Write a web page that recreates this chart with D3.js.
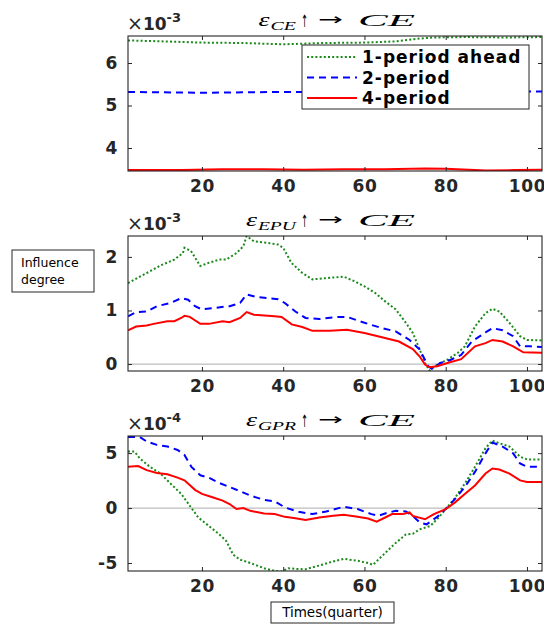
<!DOCTYPE html>
<html lang="en">
<head>
<meta charset="UTF-8">
<title>Influence degree</title>
<script src="https://d3js.org/d3.v7.min.js"></script>
<style>
  body { margin: 0; background: #fff; }
  svg { display: block; }
  .tick text { font-family: "DejaVu Sans", sans-serif; font-weight: bold; font-size: 17px; fill: #262626; }
</style>
</head>
<body>
<div id="chart"></div>
<script>
// x ticks (quarters)
const xTicks = [20, 40, 60, 80, 100];
const seriesNames = ["1-period ahead", "2-period", "4-period"];

// panel 1: eps_CE -> CE  (x 10^-3)
const ceP1 = [[1.8,6.53],[10,6.51],[20,6.48],[30,6.47],[40,6.44],[50,6.47],[60,6.48],[68,6.51],[73,6.57],[77,6.6],[85,6.61],[95,6.6],[103.7,6.61]];
const ceP2 = [[1.8,5.32],[10,5.31],[20,5.30],[30,5.31],[40,5.32],[60,5.32],[80,5.33],[103.7,5.33]];
const ceP4 = [[1.8,3.48],[15,3.48],[25,3.5],[35,3.5],[45,3.49],[55,3.5],[65,3.5],[75,3.52],[80,3.51],[90,3.47],[97,3.48],[103.7,3.49]];
const ceTicks = [4, 5, 6];

// panel 2: eps_EPU -> CE  (x 10^-3)
const epuP1 = [[1.8,1.51],[4.7,1.63],[7.2,1.73],[9.8,1.84],[13.2,1.95],[15.3,2.07],[15.7,2.17],[17.3,2.11],[19.6,1.83],[21.7,1.89],[24.3,1.95],[26,1.95],[28.5,2.07],[30.2,2.2],[31,2.39],[32.8,2.29],[36.2,2.26],[38.7,2.23],[40,2.17],[42,1.89],[44.7,1.7],[47.2,1.58],[51.5,1.61],[54.9,1.63],[57.4,1.55],[60,1.45],[62.6,1.33],[65.1,1.17],[67.7,1.02],[70.2,0.77],[71.9,0.58],[73.6,0.27],[74.9,0.02],[76,-0.12],[77.9,-0.01],[80.4,0.08],[83,0.21],[84.7,0.33],[87.2,0.7],[89.8,0.95],[91.5,1.03],[93.2,0.98],[95.7,0.77],[98.3,0.52],[100,0.45],[103.7,0.44]];
const epuP2 = [[1.8,0.89],[3.8,0.97],[6.4,0.98],[8.9,1.08],[12.3,1.14],[14.9,1.23],[16.6,1.2],[18.3,1.08],[20,1.02],[23.4,1.05],[25.5,1.07],[26.8,1.08],[29.4,1.14],[31,1.3],[33.6,1.25],[38.7,1.21],[40.4,1.14],[43,0.98],[45.5,0.86],[48.9,0.84],[53.2,0.88],[55.7,0.88],[60,0.77],[64.3,0.67],[67.7,0.61],[71.1,0.45],[73.6,0.27],[75.7,-0.04],[76.6,-0.09],[78.7,0.02],[81.3,0.08],[83.8,0.17],[86.4,0.42],[89.8,0.59],[91.5,0.67],[94,0.63],[96.6,0.52],[98.3,0.33],[100.9,0.33],[103.7,0.32]];
const epuP4 = [[1.8,0.63],[3.8,0.7],[6.4,0.72],[8.1,0.75],[11.5,0.8],[13.2,0.8],[14.9,0.86],[15.7,0.9],[17,0.88],[19.6,0.75],[21.7,0.75],[25.1,0.8],[26.8,0.78],[29.4,0.86],[31,0.97],[32.8,0.92],[37.9,0.89],[39.6,0.88],[42.1,0.74],[44.7,0.69],[47.2,0.62],[51.5,0.62],[55.7,0.64],[60,0.58],[64.3,0.5],[68.5,0.42],[71.9,0.28],[73.6,0.14],[74.9,-0.01],[76,-0.06],[77.9,-0.04],[80.4,0.02],[83.8,0.09],[87.2,0.33],[89.8,0.39],[91.5,0.45],[94,0.42],[96.6,0.33],[99.1,0.22],[103.7,0.21]];
const epuTicks = [0, 1, 2];

// panel 3: eps_GPR -> CE  (x 10^-4)
const gprP1 = [[1.8,5.14],[3.4,5.14],[4.7,4.52],[7.2,3.75],[9.8,3.14],[12.3,2.22],[14.9,1.29],[17,0.22],[19.1,-0.86],[21.7,-1.63],[24.3,-2.4],[26,-3.0],[27.7,-4.25],[29.4,-4.7],[31.9,-5.0],[35.3,-5.48],[37.9,-5.72],[39.6,-5.78],[41.3,-5.48],[43,-5.54],[45.5,-5.57],[48.9,-5.23],[52.3,-4.86],[54.9,-4.62],[58.3,-4.8],[60.9,-5.0],[62.1,-5.17],[63.4,-4.7],[65.1,-4.09],[67.7,-3.17],[70.2,-2.4],[71.9,-2.34],[73.6,-1.94],[76.2,-1.63],[77.9,-1.0],[80,-0.1],[82.1,0.83],[84.7,2.22],[87.2,3.75],[89.8,5.45],[91.5,6.15],[93.2,5.9],[95.7,5.6],[98.3,4.68],[100,4.43],[103.7,4.43]];
const gprP2 = [[1.8,6.46],[4.7,6.46],[6.4,6.06],[8.9,5.75],[11.5,5.6],[14,5.29],[15.7,4.83],[17.4,3.75],[19.6,2.98],[21.7,2.77],[24.3,2.28],[26.8,1.91],[29.4,1.54],[31.9,1.14],[35.3,0.74],[37.9,0.62],[40.4,0.06],[43.8,-0.34],[47.2,-0.55],[50.6,-0.31],[54.9,0.12],[58.3,-0.09],[61.7,-0.55],[63.4,-0.71],[65.1,-0.49],[67.7,-0.25],[70.2,-0.31],[71.9,-0.71],[73.6,-1.32],[75.3,-1.48],[77.9,-0.8],[80,-0.09],[82.3,0.83],[84.7,1.91],[87.2,3.29],[89.8,4.98],[91.5,5.97],[94,5.6],[96.6,4.98],[98.3,4.06],[100,3.75],[103.7,3.75]];
const gprP4 = [[1.8,3.75],[4.3,3.82],[6.4,3.45],[8.9,3.2],[11.5,3.08],[14,2.77],[15.7,2.52],[18.3,1.66],[20,1.29],[22.6,0.98],[25.1,0.68],[26.8,0.37],[28.5,-0.09],[30.2,0],[31.9,-0.25],[35.3,-0.49],[37.9,-0.55],[40.4,-0.8],[43,-0.92],[45.5,-1.08],[48.9,-0.86],[52.3,-0.71],[54.9,-0.62],[58.3,-0.8],[60.9,-0.95],[63,-1.23],[65.1,-0.86],[66.8,-0.55],[69.4,-0.55],[71.1,-0.4],[71.9,-0.71],[74.9,-1.02],[77.1,-0.55],[80,-0.09],[82.3,0.52],[84.7,1.29],[87.2,2.06],[89.8,3.14],[91.5,3.6],[93.2,3.51],[95.7,3.14],[98.3,2.52],[100,2.37],[103.7,2.37]];
const gprTicks = [-5, 0, 5];

const W = 544, H = 624;
const left = 128, right = 542, ph = 135;
const colors = ["#1b8a1b", "#0000ff", "#ff0000"];
const dashes = ["2,2.2", "7,5", null];

const svg = d3.select("#chart").append("svg").attr("width", W).attr("height", H);

const x = d3.scaleLinear().domain([1.8, 103.7]).range([left, right]);
const fmt = d => String(d);

function panel(top, domain, yTicks, series, sub, exp, zeroLine, clipId) {
  const y = d3.scaleLinear().domain(domain).range([top + ph, top]);
  const g = svg.append("g");

  g.append("clipPath").attr("id", clipId)
    .append("rect").attr("x", left).attr("y", top).attr("width", right - left).attr("height", ph);

  if (zeroLine) {
    g.append("line")
      .attr("x1", left).attr("x2", right).attr("y1", y(0)).attr("y2", y(0))
      .attr("stroke", "#bdbdbd").attr("stroke-width", 1.2);
  }

  const line = d3.line().x(d => x(d[0])).y(d => y(d[1]));
  series.forEach((s, i) => {
    g.append("path").datum(s)
      .attr("clip-path", "url(#" + clipId + ")")
      .attr("d", line)
      .attr("fill", "none")
      .attr("stroke", colors[i])
      .attr("stroke-width", 2)
      .attr("stroke-dasharray", dashes[i]);
  });

  // axes, ticks inward on every side
  g.append("g").attr("transform", "translate(0," + (top + ph) + ")")
    .call(d3.axisBottom(x).tickValues(xTicks).tickFormat(fmt).tickSizeOuter(0).tickSizeInner(-4).tickPadding(9));
  g.append("g").attr("transform", "translate(0," + top + ")")
    .call(d3.axisTop(x).tickValues(xTicks).tickFormat("").tickSizeOuter(0).tickSizeInner(-4));
  g.append("g").attr("transform", "translate(" + left + ",0)")
    .call(d3.axisLeft(y).tickValues(yTicks).tickFormat(fmt).tickSizeOuter(0).tickSizeInner(-4).tickPadding(10));
  g.append("g").attr("transform", "translate(" + right + ",0)")
    .call(d3.axisRight(y).tickValues(yTicks).tickFormat("").tickSizeOuter(0).tickSizeInner(-4));
  g.selectAll(".domain").remove();
  g.selectAll(".tick line").attr("stroke", "#262626");
  g.selectAll(".tick text").attr("letter-spacing", "0.6px");

  g.append("rect").attr("x", left).attr("y", top).attr("width", right - left).attr("height", ph)
    .attr("fill", "none").attr("stroke", "#262626").attr("stroke-width", 1.1);

  // exponent label
  const e = g.append("text").attr("x", left - 1).attr("y", top - 6)
    .attr("font-family", "DejaVu Sans, sans-serif").attr("fill", "#262626");
  e.append("tspan").attr("font-size", "19px").text("×");
  e.append("tspan").attr("font-size", "17px").attr("font-weight", "bold").text("10");
  e.append("tspan").attr("font-size", "13px").attr("font-weight", "bold").attr("dy", -8).text(exp);

  // title, wide LaTeX-like glyphs
  const cx = (left + right) / 2, by = top - 10;
  const subW = sub.length * 12.7;
  const serif = "Liberation Serif, serif";
  g.append("text").attr("x", cx - 39 - subW - 12).attr("y", by)
    .attr("font-family", serif).attr("font-style", "italic").attr("font-size", "19px")
    .attr("textLength", 11).attr("lengthAdjust", "spacingAndGlyphs").text("ε");
  g.append("text").attr("x", cx - 39 - subW).attr("y", by + 4)
    .attr("font-family", serif).attr("font-style", "italic").attr("font-size", "13px")
    .attr("textLength", subW).attr("lengthAdjust", "spacingAndGlyphs").text(sub);
  g.append("text").attr("x", cx - 34).attr("y", by + 1)
    .attr("font-family", "DejaVu Sans").attr("font-size", "17px").attr("fill", "#000")
    .attr("textLength", 7).attr("lengthAdjust", "spacingAndGlyphs").text("\u2191");
  g.append("text").attr("x", cx - 17).attr("y", by - 1)
    .attr("font-family", "DejaVu Sans").attr("font-size", "16px").attr("fill", "#000")
    .attr("textLength", 25).attr("lengthAdjust", "spacingAndGlyphs").text("\u2192");
  g.append("text").attr("x", cx + 23).attr("y", by)
    .attr("font-family", serif).attr("font-style", "italic").attr("font-size", "16.5px")
    .attr("textLength", 57).attr("lengthAdjust", "spacingAndGlyphs").text("CE");
}

panel(36, [3.459, 6.635], ceTicks, [ceP1, ceP2, ceP4], "CE", "-3", false, "c1");
panel(236, [-0.13, 2.39], epuTicks, [epuP1, epuP2, epuP4], "EPU", "-3", true, "c2");
panel(436, [-5.73, 6.56], gprTicks, [gprP1, gprP2, gprP4], "GPR", "-4", true, "c3");

// legend
const lg = svg.append("g");
lg.append("rect").attr("x", 302).attr("y", 45).attr("width", 227).attr("height", 64)
  .attr("fill", "#fff").attr("stroke", "#262626").attr("stroke-width", 1);
const rowY = d3.scalePoint().domain(seriesNames).range([57, 98]);
seriesNames.forEach((n, i) => {
  lg.append("line").attr("x1", 307).attr("x2", 357).attr("y1", rowY(n)).attr("y2", rowY(n))
    .attr("stroke", colors[i]).attr("stroke-width", 2).attr("stroke-dasharray", dashes[i]);
  lg.append("text").attr("x", 362).attr("y", rowY(n)).attr("dy", "0.36em")
    .attr("font-family", "DejaVu Sans, sans-serif").attr("font-weight", "bold")
    .attr("font-size", "17px").attr("letter-spacing", "1px").attr("fill", "#000").text(n);
});

// y label box
svg.append("rect").attr("x", 12).attr("y", 250).attr("width", 82).attr("height", 42)
  .attr("fill", "#fff").attr("stroke", "#262626").attr("stroke-width", 1);
const yl = svg.append("text").attr("x", 21).attr("font-family", "DejaVu Sans, sans-serif")
  .attr("font-size", "12.5px").attr("fill", "#000");
yl.append("tspan").attr("x", 21).attr("y", 267).text("Influence");
yl.append("tspan").attr("x", 21).attr("y", 284).text("degree");

// x label box
svg.append("rect").attr("x", 271).attr("y", 602).attr("width", 123).attr("height", 21)
  .attr("fill", "#fff").attr("stroke", "#262626").attr("stroke-width", 1);
svg.append("text").attr("x", 332.5).attr("y", 617).attr("text-anchor", "middle")
  .attr("font-family", "DejaVu Sans, sans-serif").attr("font-size", "13.5px").attr("fill", "#000")
  .text("Times(quarter)");
</script>
</body>
</html>
